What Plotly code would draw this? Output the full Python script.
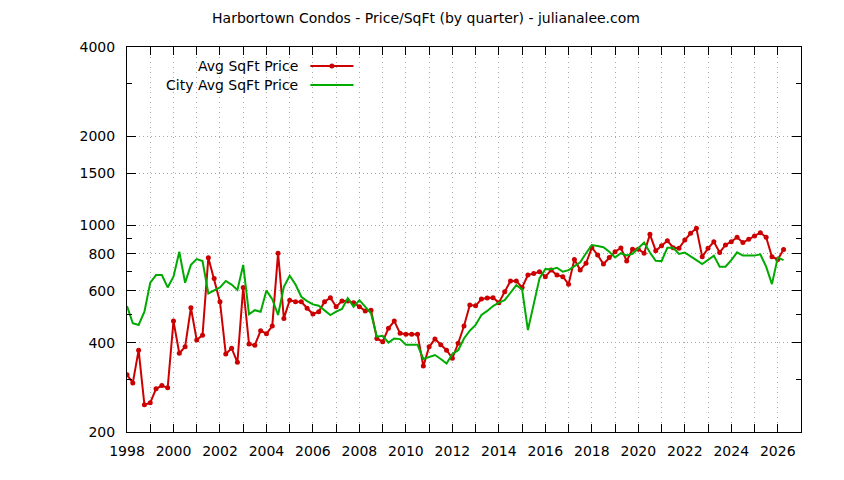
# Harbortown Condos - preço por pé quadrado, trimestral
import plotly.graph_objects as go

# Dados (um valor por trimestre a partir de 1998 T1)
ano_inicial = 1998
avg_price = [312, 293, 378, 247, 251, 280, 287, 282, 474, 369,
             388, 526, 409, 425, 776, 660, 551, 367, 384, 344,
             616, 397, 393, 440, 430, 456, 804, 484, 558, 551,
             551, 524, 501, 510, 551, 569, 530, 554, 554, 547,
             530, 513, 516, 414, 404, 448, 474, 431, 428, 428,
             428, 334, 388, 412, 394, 378, 355, 399, 456, 537,
             534, 563, 567, 569, 547, 596, 648, 648, 616, 678,
             687, 696, 670, 705, 678, 670, 632, 766, 705, 743,
             839, 793, 739, 778, 813, 837, 757, 829, 829, 804,
             931, 820, 852, 886, 839, 835, 891, 939, 976, 782,
             835, 879, 809, 857, 879, 910, 873, 896, 919, 943,
             910, 782, 766, 827]
city_price = [533, 466, 460, 510, 639, 678, 678, 616, 670, 813,
              639, 734, 768, 756, 588, 601, 616, 648, 630, 604,
              734, 500, 516, 510, 601, 562, 497, 619, 675, 630,
              573, 554, 540, 534, 516, 497, 510, 521, 567, 530,
              558, 530, 504, 420, 423, 401, 414, 412, 394, 394,
              394, 353, 359, 364, 353, 341, 367, 378, 414, 440,
              460, 497, 513, 533, 547, 558, 591, 627, 607, 442,
              541, 661, 711, 709, 718, 696, 705, 729, 749, 804,
              857, 850, 842, 813, 778, 804, 790, 800, 835, 873,
              808, 758, 756, 839, 839, 799, 808, 782, 762, 739,
              762, 789, 724, 724, 762, 809, 789, 789, 789, 797,
              724, 632, 777, 762]
trimestres = [ano_inicial + i / 4 for i in range(len(avg_price))]

anos_rotulo = list(range(1998, 2027, 2))
y_ticks = [200, 400, 600, 800, 1000, 1500, 2000, 4000]
y_minor = [300, 500, 700, 900, 3000]

vermelho = '#cc0000'
verde = '#00aa00'
cinza_grade = '#a8a8a8'
fonte = dict(family='DejaVu Sans', size=14, color='black')

fig = go.Figure()

fig.add_trace(go.Scatter(x=trimestres, y=avg_price,
                         mode='lines+markers',
                         line=dict(color=vermelho, width=2),
                         marker=dict(color=vermelho, size=5),
                         name='Avg SqFt Price'))

fig.add_trace(go.Scatter(x=trimestres, y=city_price,
                         mode='lines',
                         line=dict(color=verde, width=2),
                         name='City Avg SqFt Price'))

# legenda no estilo gnuplot (texto à esquerda da amostra)
legenda = [('Avg SqFt Price', vermelho, 0.9506, True),
           ('City Avg SqFt Price', verde, 0.901, False)]
for texto, cor, yy, ponto in legenda:
    fig.add_annotation(x=0.257, y=yy, xref='paper', yref='paper',
                       text=texto, showarrow=False,
                       xanchor='right', yanchor='middle', font=fonte)
    fig.add_shape(type='line', xref='paper', yref='paper',
                  x0=0.272, x1=0.336, y0=yy, y1=yy,
                  line=dict(color=cor, width=2))
    if ponto:
        fig.add_shape(type='circle', xref='paper', yref='paper',
                      xsizemode='pixel', ysizemode='pixel',
                      xanchor=0.304, yanchor=yy,
                      x0=-2.5, x1=2.5, y0=-2.5, y1=2.5,
                      fillcolor=cor, line=dict(width=0))

fig.update_xaxes(range=[1998, 2027],
                 tickvals=anos_rotulo, ticktext=[str(a) for a in anos_rotulo],
                 ticks='inside', ticklen=8, tickcolor='black',
                 showline=True, linecolor='black', linewidth=1, mirror='ticks',
                 showgrid=True, gridcolor=cinza_grade, griddash='1px,4px', gridwidth=1,
                 minor=dict(dtick=1, tick0=1998, ticks='inside', ticklen=8,
                            tickcolor='black', showgrid=True,
                            gridcolor=cinza_grade, griddash='1px,4px'),
                 zeroline=False, ticklabelstandoff=6, tickfont=fonte)

fig.update_yaxes(type='log', range=[2.30103, 3.60206],
                 tickvals=y_ticks, ticktext=[str(v) for v in y_ticks],
                 ticks='inside', ticklen=9, tickcolor='black',
                 showline=True, linecolor='black', linewidth=1, mirror='ticks',
                 showgrid=True, gridcolor=cinza_grade, griddash='1px,3px', gridwidth=1,
                 minor=dict(tickmode='array', tickvals=y_minor, ticks='inside',
                            ticklen=5, tickcolor='black', showgrid=False),
                 zeroline=False, ticklabelstandoff=8, tickfont=fonte)

# a página tem 8px de margem do navegador; compensado aqui
fig.update_layout(title=dict(text='Harbortown Condos - Price/SqFt (by quarter) - julianalee.com',
                             x=0.5, xref='container', xanchor='center',
                             y=0.978, yanchor='middle', font=fonte),
                  width=836, height=472,
                  margin=dict(l=119, r=43, t=39, b=48),
                  plot_bgcolor='white', paper_bgcolor='white',
                  showlegend=False, font=fonte)

fig.write_html('out.html')
